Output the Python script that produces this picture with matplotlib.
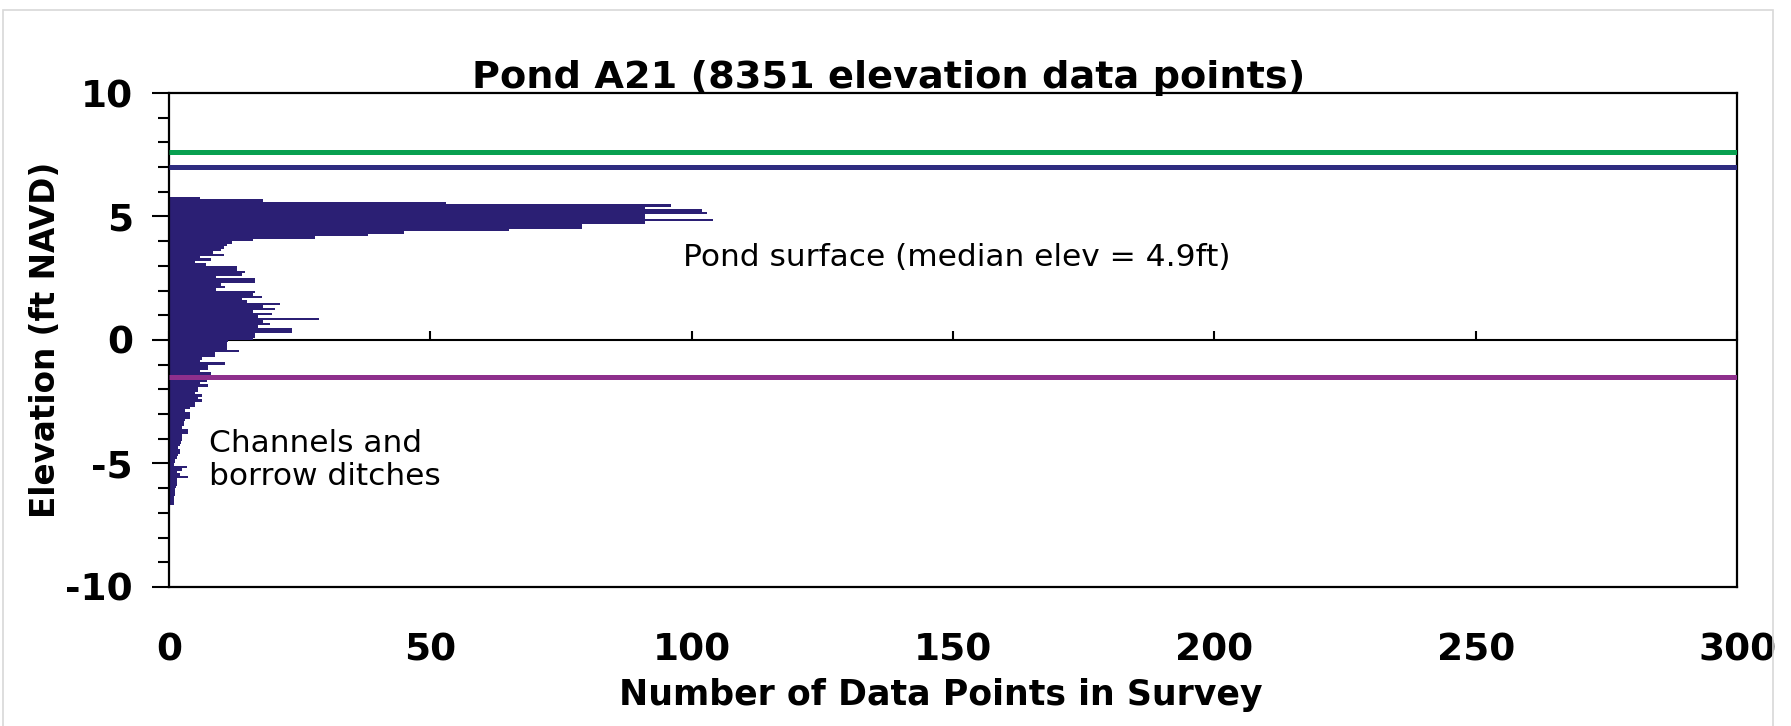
import numpy as np
import matplotlib.pyplot as plt
from matplotlib.patches import Rectangle

plt.rcParams['font.family'] = ['DejaVu Sans']
plt.rcParams['axes.unicode_minus'] = False

# elevation histogram, 0.1 ft bins read from the top bin (5.7-5.8 ft) downwards
bin_top = 5.8
bin_width = 0.1
counts = [
    6, 18, 53, 96, 91, 102, 103, 91, 91, 104,          # 5.7 .. 4.8
    91, 79, 79, 65, 45, 38, 28, 16, 12, 11,            # 4.7 .. 3.8
    10.5, 10, 8.5, 10.5, 6, 8, 5, 7, 13, 13,           # 3.7 .. 2.8
    14.5, 14, 9, 16.5, 16.5, 10, 10.7, 9, 16.4, 16,    # 2.7 .. 1.8
    17.7, 14, 15, 21.2, 18, 20.3, 16, 19.6, 17, 28.6,  # 1.7 .. 0.8
    18, 19.3, 17, 23.5, 23.5, 16.4, 16.4, 16, 11.3, 11,  # 0.7 .. -0.2
    11, 11, 13.3, 8.8, 8.8, 6.3, 6, 10.7, 7.5, 7.5,    # -0.3 .. -1.2
    6, 8, 11, 11, 7.2, 6, 7.5, 5.6, 5.6, 5,            # -1.3 .. -2.2
    6.3, 5.5, 6.3, 5, 5, 4, 3, 4, 4, 4,                # -2.3 .. -3.2
    3.1, 2.8, 2.8, 2.5, 3.7, 3.7, 2.4, 2.4, 2.4, 2.2,  # -3.3 .. -4.2
    2, 1.8, 2.1, 2.1, 1.8, 1.5, 1.2, 1.2, 1, 3.4,      # -4.3 .. -5.2
    2.5, 1.5, 2, 3.7, 1.5, 1.5, 1.5, 1.3, 1.2, 1.2,    # -5.3 .. -6.2
    1.2, 1, 0.9, 0.9, 0.9,                             # -6.3 .. -6.7
]

# reference elevations (ft NAVD)
ref_levels = [7.6, 7.0, -1.5]
ref_colors = ['#08a050', '#2e2c80', '#8e2f8c']

x_ticks = [0, 50, 100, 150, 200, 250, 300]
bar_color = '#2b1f74'

# bin edges from the bottom up, so stairs gets monotonic edges
n_bins = len(counts)
edges = np.round(bin_top - bin_width * np.arange(n_bins, -1, -1), 2)
values = np.array(counts[::-1])

fig = plt.figure(figsize=(17.91, 7.26), dpi=100)
ax = fig.add_axes([0.0944, 0.1915, 0.9699 - 0.0944, 0.8719 - 0.1915])

ax.stairs(values, edges, orientation='horizontal', fill=True, baseline=0,
          color=bar_color, zorder=2)

for lev, col in zip(ref_levels, ref_colors):
    ax.axhline(lev, color=col, lw=3.6, zorder=3, solid_capstyle='butt')

ax.set_xlim(0, 300)
ax.set_ylim(-10, 10)

# y axis: major every 5, minor every 1, both pointing outwards
ax.set_yticks([-10, -5, 0, 5, 10])
ax.set_yticks(np.arange(-10, 11, 1), minor=True)
ax.tick_params(axis='y', which='major', direction='out', length=12, width=1.5,
               labelsize=27, pad=14)
ax.tick_params(axis='y', which='minor', direction='out', length=8, width=1.5)
for lab in ax.get_yticklabels():
    lab.set_fontweight('bold')

# x labels sit under the frame, the axis line itself crosses at 0
ax.set_xticks(x_ticks)
ax.tick_params(axis='x', which='major', length=0, labelsize=27, pad=33)
for lab in ax.get_xticklabels():
    lab.set_fontweight('bold')

sec = ax.secondary_xaxis(0.5)
sec.set_xticks(x_ticks)
sec.tick_params(axis='x', direction='out', length=6.5, width=1.5,
                labeltop=False, labelbottom=False)
for sp in sec.spines.values():
    sp.set_linewidth(1.5)

for sp in ax.spines.values():
    sp.set_linewidth(1.6)

ax.set_xlabel('Number of Data Points in Survey', fontsize=25, fontweight='bold')
ax.xaxis.set_label_coords(0.492, -0.185)
ax.set_ylabel('Elevation (ft NAVD)', fontsize=23.5, fontweight='bold')
ax.yaxis.set_label_coords(-0.068, 0.5)

fig.text(0.496, 0.892, 'Pond A21 (8351 elevation data points)', fontsize=27.5,
         fontweight='bold', ha='center', va='center')

ax.text(98.3, 3.32, 'Pond surface (median elev = 4.9ft)', fontsize=22.5,
        ha='left', va='center')
ax.text(7.65, -4.86, 'Channels and\nborrow ditches', fontsize=22.5,
        ha='left', va='center', linespacing=1.2)

# thin grey frame around the whole picture
fig.patches.append(Rectangle((3 / 1791, -0.01), 1770 / 1791, 1 - 10 / 726 + 0.01,
                             transform=fig.transFigure, fill=False,
                             edgecolor='#d8d8d8', lw=1.2))

fig.savefig('out.png', dpi=100)
